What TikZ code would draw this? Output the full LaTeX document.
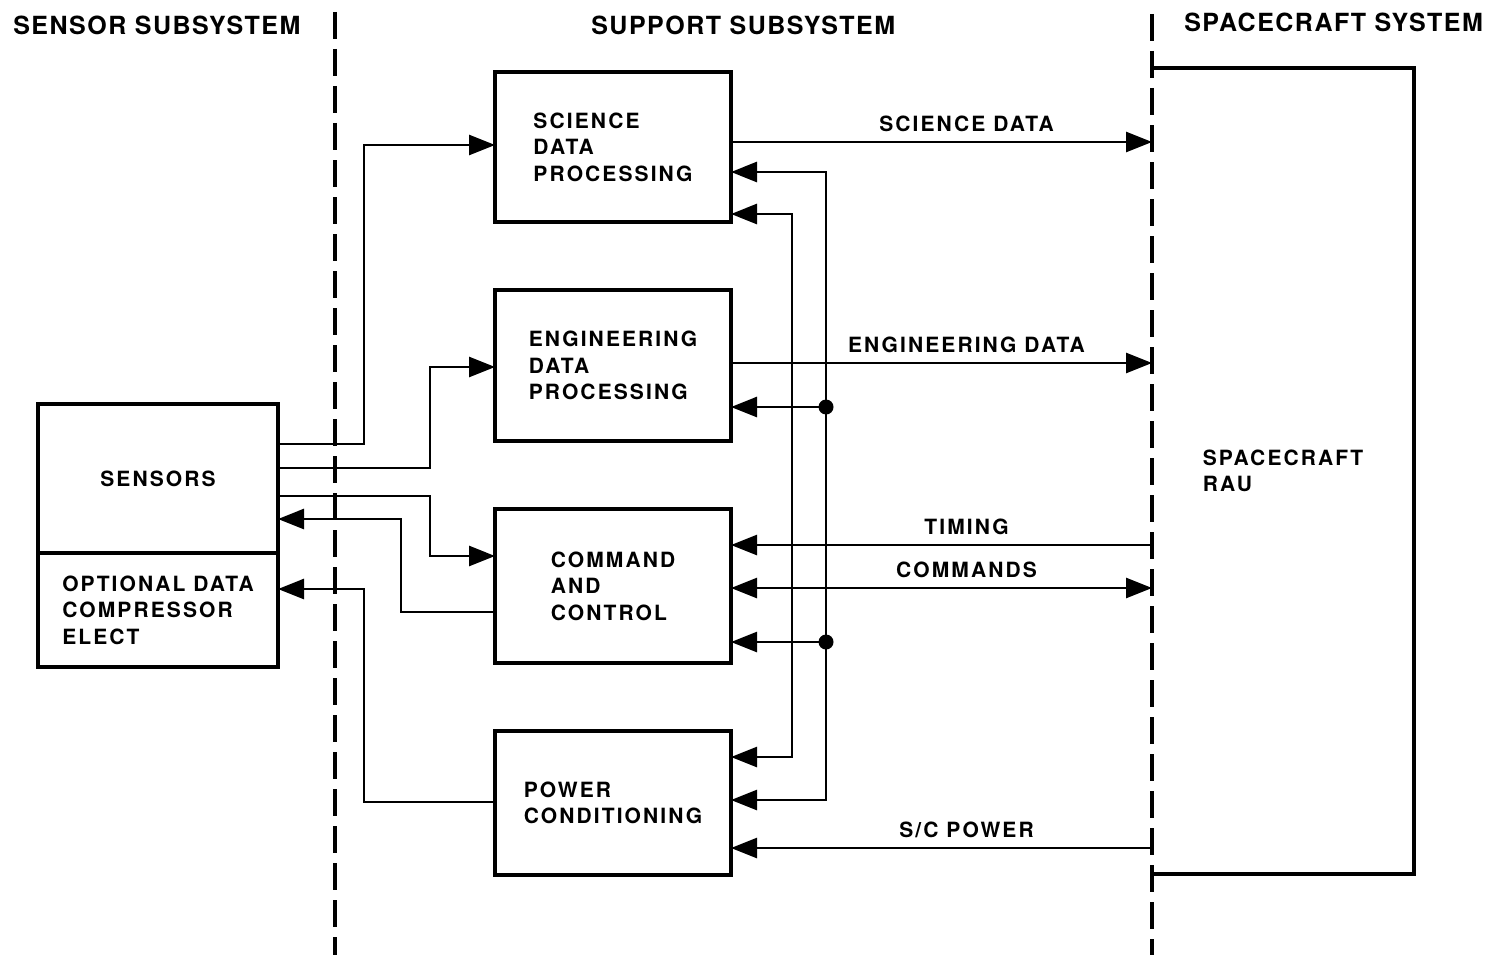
\documentclass[tikz,border=0pt]{standalone}
\usepackage{fontspec}
\setmainfont{TeX Gyre Heros}[LetterSpace=6]
\newfontfamily\lblfont{TeX Gyre Heros}[LetterSpace=10]
\usetikzlibrary{arrows.meta,positioning}

\begin{document}
\begin{tikzpicture}[x=1pt, y=-1pt, ->, >={Triangle[length=26pt, width=20pt]}, node distance=68pt, line width=2.6pt,
  blk/.style = {draw, rectangle, line width=4pt, outer sep=0pt, minimum width=236pt, minimum height=150pt, align=left, font=\lblfont\fontsize{21}{26.5}\selectfont\bfseries},
  lbl/.style = {font=\lblfont\fontsize{21}{26}\selectfont\bfseries, inner sep=0pt, xshift=25pt},
  hdr/.style = {font=\fontsize{25}{30}\selectfont\bfseries, inner sep=0pt, anchor=west},
  divider/.style = {-, line width=4pt, dash pattern=on 27pt off 10pt}]
  \useasboundingbox (0,0) rectangle (1495,955);

  % Subsystem headings
  \node[hdr] (h_sensor) at (12,25) {SENSOR SUBSYSTEM};
  \node[hdr] (h_support) at (590,25) {SUPPORT SUBSYSTEM};
  \node[hdr] (h_craft) at (1183,22) {SPACECRAFT SYSTEM};

  % Dividers
  \draw[divider] (335,12) -- (335,955);
  \draw[divider] (1152,14) -- (1152,955);

  % Support blocks
  \node[blk] (sdp) at (613,147) {SCIENCE\\DATA\\PROCESSING};
  \node[blk, minimum height=151pt] (edp) [below=of sdp] {ENGINEERING\\DATA\\PROCESSING};
  \node[blk, minimum height=154pt] (cc) [below=of edp] {COMMAND\\AND\\CONTROL};
  \node[blk, minimum height=144pt] (pc) [below=of cc] {POWER\\CONDITIONING};

  % Sensor blocks
  \node[blk, minimum width=240pt, minimum height=149pt] (sens) at (158,478.5) {SENSORS};
  \node[blk, minimum width=240pt, minimum height=114pt, anchor=north] (opt) at (sens.south) {OPTIONAL DATA\\COMPRESSOR\\ELECT};

  % Spacecraft RAU (left side is the divider)
  \node[blk, draw=none, minimum width=262pt, minimum height=806pt] (rau) at (1283,471) {SPACECRAFT\\RAU};
  \draw[-, line width=4pt] (rau.north west) -| (rau.south east) -- (rau.south west);

  % Sensors to support blocks
  \draw (sens.east |- 0,444) -| (364,145) -- (sdp.west |- 0,145);
  \draw (sens.east |- 0,468) -| (430,367) -- (edp.west |- 0,367);
  \draw (sens.east |- 0,496) -| (430,556) -- (cc.west |- 0,556);
  \draw (cc.west |- 0,612) -| (401,519) -- (sens.east |- 0,519);
  \draw (pc.west |- 0,802) -| (364,589) -- (opt.east |- 0,589);

  % Links to the spacecraft
  \draw (sdp.east |- 0,142) -- node[lbl, above=9pt] (l_sci) {SCIENCE DATA} (rau.west |- 0,142);
  \draw (edp.east |- 0,363) -- node[lbl, above=9pt] (l_eng) {ENGINEERING DATA} (rau.west |- 0,363);
  \draw (rau.west |- 0,545) -- node[lbl, above=9pt] (l_tim) {TIMING} (cc.east |- 0,545);
  \draw[<->] (cc.east |- 0,588) -- node[lbl, above=9pt] (l_cmd) {COMMANDS} (rau.west |- 0,588);
  \draw (rau.west |- 0,848) -- node[lbl, above=9pt] (l_pwr) {S/C POWER} (pc.east |- 0,848);

  % Power distribution
  \coordinate (j_eng) at (826,407);
  \coordinate (j_cmd) at (826,642);
  \draw[<->] (sdp.east |- 0,172) -| (826,800) -- (pc.east |- 0,800);
  \draw[<->] (sdp.east |- 0,214) -| (792,757) -- (pc.east |- 0,757);
  \draw (j_eng) -- (edp.east |- j_eng);
  \draw (j_cmd) -- (cc.east |- j_cmd);
  \fill (j_eng) circle (7.5);
  \fill (j_cmd) circle (7.5);

\end{tikzpicture}
\end{document}
